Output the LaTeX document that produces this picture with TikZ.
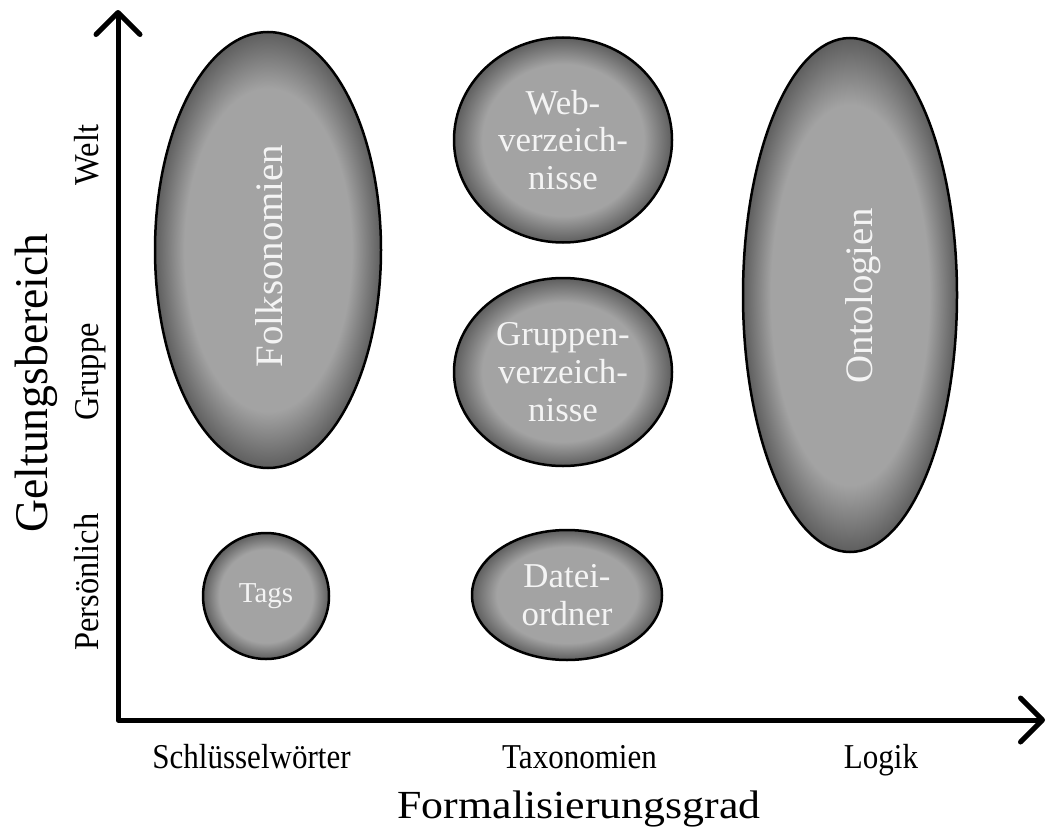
\documentclass[tikz,border=0pt]{standalone}
\usepackage{fontspec}
\setmainfont{Liberation Serif}
\newfontfamily\tickfont[FakeStretch=0.89]{Liberation Serif}
\newfontfamily\ytickfont[FakeStretch=0.93]{Liberation Serif}
\newfontfamily\xtitlefont[FakeStretch=1.1]{Liberation Serif}
\newfontfamily\ytitlefont[FakeStretch=0.975]{Liberation Serif}
\usetikzlibrary{arrows.meta,shapes.geometric}
\definecolor{gin}{HTML}{A3A3A3}
\definecolor{gout}{HTML}{5E5E5E}
\definecolor{blobtext}{HTML}{F4F4F4}
\pgfdeclareradialshading{glow}{\pgfpoint{0bp}{0bp}}{color(0bp)=(gin); color(18.5bp)=(gin); color(25bp)=(gout); color(30bp)=(gout)}
\tikzset{
  axis/.style={line width=5bp, line cap=round, line join=round},
  barb/.tip={Straight Barb[length=22bp, width=44bp, line width=5bp, line cap=round, line join=round]},
  blob/.style={ellipse, draw=black, line width=2.5bp, shading=glow, inner sep=0pt},
  blobtxt/.style={text=blobtext, align=center, inner sep=0pt, font=\fontsize{35}{38}\selectfont},
  vblobtxt/.style={text=blobtext, inner sep=0pt, rotate=90, anchor=base, font=\fontsize{39}{44}\selectfont},
  tick/.style={font=\tickfont\fontsize{35}{40}\selectfont, inner sep=0pt, anchor=base},
  ytick/.style={font=\ytickfont\fontsize{35}{40}\selectfont, inner sep=0pt, anchor=base, rotate=90},
  xtitle/.style={font=\xtitlefont\fontsize{40}{46}\selectfont, inner sep=0pt, anchor=base},
  ytitle/.style={font=\ytitlefont\fontsize{47}{52}\selectfont, inner sep=0pt, anchor=base, rotate=90}
}
\begin{document}
\begin{tikzpicture}[x=1bp, y=-1bp]
\useasboundingbox[fill=white] (0,0) rectangle (1050,832);
% axes
\coordinate (ytip) at (118,10);
\coordinate (o) at (118,720);
\coordinate (xtip) at (1045,720);
\draw[axis, barb-barb] (ytip) -- (o) -- (xtip);
% blobs
\node[blob, minimum width=226bp, minimum height=436bp] (folk) at (268,250) {};
\node[blob, minimum width=218bp, minimum height=205bp] (web) at (563,140) {};
\node[blob, minimum width=218bp, minimum height=188bp] (grp) at (563,372) {};
\node[blob, minimum width=214bp, minimum height=514bp] (onto) at (850,295) {};
\node[blob, minimum width=126bp, minimum height=126bp] (tags) at (266,596) {};
\node[blob, minimum width=190bp, minimum height=130bp] (datei) at (567,595) {};
% blob texts
\node[vblobtxt] (folkt) at (282,256) {Folksonomien};
\node[vblobtxt] (ontot) at (872,296) {Ontologien};
\node[blobtxt] (webt) at (web) {Web-\\verzeich-\\nisse};
\node[blobtxt] (grpt) at (grp) {Gruppen-\\verzeich-\\nisse};
\node[blobtxt, font=\fontsize{29}{34}\selectfont] (tagst) at (tags) {Tags};
\node[blobtxt] (dateit) at (datei) {Datei-\\ordner};
% x labels
\node[tick] (schl) at (251.5,768) {Schlüsselwörter};
\node[tick] (taxo) at (579.5,768) {Taxonomien};
\node[tick] (logik) at (881,768) {Logik};
\node[xtitle] (fgrad) at (579,818) {Formalisierungsgrad};
% y labels
\node[ytick] (welt) at (98,155) {Welt};
\node[ytick] (gruppe) at (98,372) {Gruppe};
\node[ytick] (pers) at (98,582) {Persönlich};
\node[ytitle] (gbereich) at (47,383) {Geltungsbereich};
\end{tikzpicture}
\end{document}
